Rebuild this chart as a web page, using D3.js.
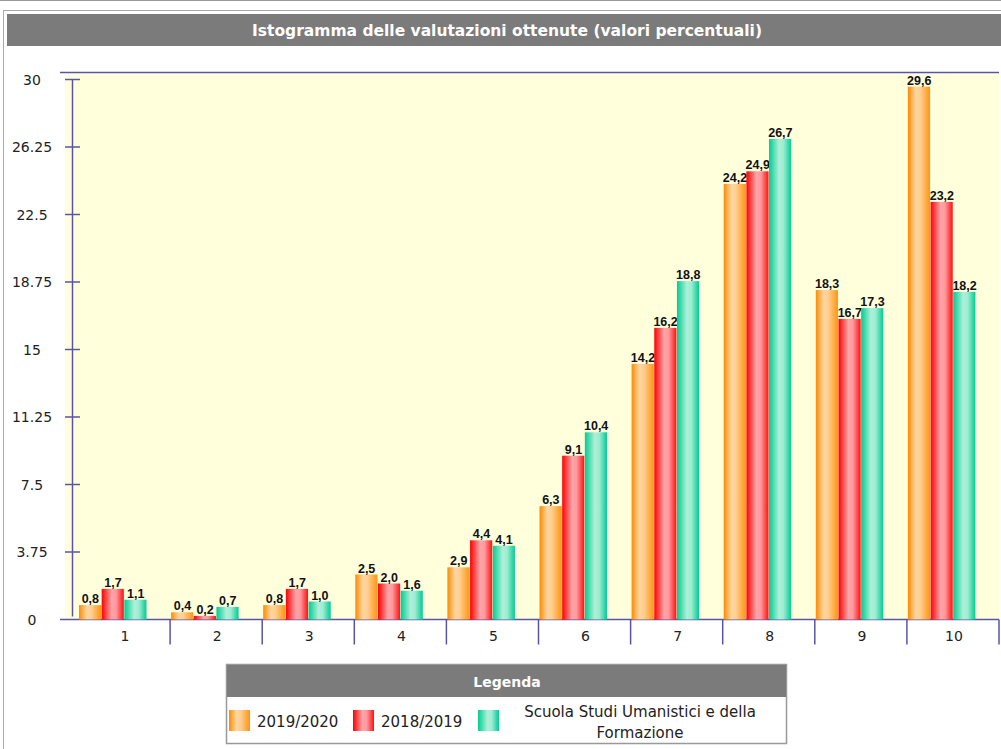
<!DOCTYPE html>
<html>
<head>
<meta charset="utf-8">
<script src="https://cdn.jsdelivr.net/npm/d3@7"></script>
<style>
  body { margin: 0; background: #fff; }
  svg { display: block; font-family: "DejaVu Sans", Verdana, sans-serif; }
</style>
</head>
<body>
<script>
// valutazioni 1..10, percentuali per anno
var categories = ["1", "2", "3", "4", "5", "6", "7", "8", "9", "10"];
var seriesNames = ["2019/2020", "2018/2019", "Scuola Studi Umanistici e della Formazione"];
var values2019 = [0.8, 0.4, 0.8, 2.5, 2.9, 6.3, 14.2, 24.2, 18.3, 29.6];
var values2018 = [1.7, 0.2, 1.7, 2.0, 4.4, 9.1, 16.2, 24.9, 16.7, 23.2];
var valuesScuola = [1.1, 0.7, 1.0, 1.6, 4.1, 10.4, 18.8, 26.7, 17.3, 18.2];
var yTicks = [0, 3.75, 7.5, 11.25, 15, 18.75, 22.5, 26.25, 30];

var W = 1001, H = 749;
var plot = {left: 78, right: 999, top: 79.5, bottom: 619.5};
var axisColor = "#5a54a8";

var svg = d3.select("body").append("svg")
    .attr("width", W).attr("height", H);

// gradienti tipo "cilindro"
var grads = [
  {id: "gOrange", stops: [["0%", "#ff8a00"], ["35%", "#ffd6a0"], ["55%", "#ffcf92"], ["100%", "#ff9410"]]},
  {id: "gRed", stops: [["0%", "#ff0000"], ["45%", "#ffa4a8"], ["65%", "#ff9a9e"], ["100%", "#ff1010"]]},
  {id: "gGreen", stops: [["0%", "#00cc92"], ["45%", "#aef0d8"], ["65%", "#9eecd2"], ["100%", "#00cc92"]]}
];
var defs = svg.append("defs");
grads.forEach(function(g) {
  var lg = defs.append("linearGradient").attr("id", g.id)
      .attr("x1", "0%").attr("x2", "100%").attr("y1", "0%").attr("y2", "0%");
  g.stops.forEach(function(s) {
    lg.append("stop").attr("offset", s[0]).attr("stop-color", s[1]);
  });
});

// cornice esterna
svg.append("line").attr("x1", 0).attr("x2", W).attr("y1", 0.5).attr("y2", 0.5)
    .attr("stroke", "#999");
svg.append("rect").attr("x", 3.5).attr("y", 10.5).attr("width", W + 10).attr("height", H + 10)
    .attr("fill", "none").attr("stroke", "#aaa");

// titolo
svg.append("rect").attr("x", 7).attr("y", 14).attr("width", W - 7).attr("height", 32)
    .attr("fill", "#7b7b7b");
svg.append("text").attr("x", 507).attr("y", 35.5)
    .attr("text-anchor", "middle").attr("fill", "#fff")
    .attr("font-weight", "bold").attr("font-size", "15.5px")
    .text("Istogramma delle valutazioni ottenute (valori percentuali)");

var x = d3.scaleBand().domain(categories).range([plot.left, plot.right]);
var xInner = d3.scaleBand().domain([0, 1, 2]).range([1, 69]);
var y = d3.scaleLinear().domain([0, 30]).range([plot.bottom, plot.top]);

// sfondo area grafico
svg.append("rect").attr("x", 65).attr("y", y(30) - 6)
    .attr("width", plot.right - 65).attr("height", plot.bottom - y(30) + 6)
    .attr("fill", "#ffffdc");
svg.append("line").attr("x1", 60).attr("x2", plot.right)
    .attr("y1", y(30) - 7).attr("y2", y(30) - 7)
    .attr("stroke", axisColor).attr("stroke-width", 1.5);

// asse y
var yAxis = svg.append("g");
yAxis.append("line").attr("x1", 72.5).attr("x2", 72.5)
    .attr("y1", y(30)).attr("y2", y(0) - 3)
    .attr("stroke", axisColor).attr("stroke-width", 1.5);
yAxis.selectAll(".tk").data(yTicks.filter(function(d) { return d > 0; })).enter()
  .append("line").attr("x1", 65).attr("x2", 80)
    .attr("y1", function(d) { return y(d); }).attr("y2", function(d) { return y(d); })
    .attr("stroke", axisColor).attr("stroke-width", 1.5);
yAxis.selectAll("text").data(yTicks).enter().append("text")
    .attr("x", 32).attr("y", function(d) { return y(d) + 5; })
    .attr("text-anchor", "middle").attr("font-size", "14px").attr("fill", "#222")
    .text(function(d) { return d; });

// asse x
svg.append("line").attr("x1", 60).attr("x2", plot.right)
    .attr("y1", y(0)).attr("y2", y(0))
    .attr("stroke", axisColor).attr("stroke-width", 1.5);
svg.selectAll(".sep").data(categories).enter().append("line")
    .attr("x1", function(d) { return x(d) + x.bandwidth(); })
    .attr("x2", function(d) { return x(d) + x.bandwidth(); })
    .attr("y1", y(0)).attr("y2", y(0) + 25)
    .attr("stroke", axisColor).attr("stroke-width", 1.5);
svg.selectAll(".xl").data(categories).enter().append("text")
    .attr("x", function(d) { return x(d) + x.bandwidth() / 2 + 1; })
    .attr("y", y(0) + 21)
    .attr("text-anchor", "middle").attr("font-size", "14px").attr("fill", "#222")
    .text(function(d) { return d; });

// barre
var allSeries = [values2019, values2018, valuesScuola];
var fills = ["url(#gOrange)", "url(#gRed)", "url(#gGreen)"];
var fmt = d3.format(".1f");
allSeries.forEach(function(vals, si) {
  var g = svg.append("g");
  g.selectAll("rect").data(vals).enter().append("rect")
      .attr("x", function(d, i) { return x(categories[i]) + xInner(si); })
      .attr("y", function(d) { return y(d); })
      .attr("width", xInner.bandwidth() - 0.5)
      .attr("height", function(d) { return y(0) - y(d); })
      .attr("fill", fills[si]);
  g.selectAll("text").data(vals).enter().append("text")
      .attr("x", function(d, i) { return x(categories[i]) + xInner(si) + xInner.bandwidth() / 2; })
      .attr("y", function(d) { return y(d) - 2; })
      .attr("text-anchor", "middle")
      .attr("font-family", "'Liberation Sans Narrow', 'Arial Narrow', sans-serif")
      .attr("font-weight", "bold").attr("font-size", "12.5px").attr("fill", "#111")
      .text(function(d) { return fmt(d).replace(".", ","); });
});

// legenda
var lg = svg.append("g");
lg.append("rect").attr("x", 226.5).attr("y", 664.5).attr("width", 560).attr("height", 79)
    .attr("fill", "#fff").attr("stroke", "#999").attr("stroke-width", 1.5);
lg.append("rect").attr("x", 227).attr("y", 665).attr("width", 559).attr("height", 32)
    .attr("fill", "#7b7b7b");
lg.append("text").attr("x", 507).attr("y", 687).attr("text-anchor", "middle")
    .attr("fill", "#fff").attr("font-weight", "bold").attr("font-size", "14px")
    .text("Legenda");
var swatchX = [229, 353, 478];
var labelX = [257, 381, 640];
seriesNames.forEach(function(name, i) {
  lg.append("rect").attr("x", swatchX[i]).attr("y", 710).attr("width", 21).attr("height", 21)
      .attr("fill", fills[i]);
  if (i < 2) {
    lg.append("text").attr("x", labelX[i]).attr("y", 727)
        .attr("font-size", "15px").attr("fill", "#222").text(name);
  } else {
    var t = lg.append("text").attr("text-anchor", "middle")
        .attr("font-size", "15px").attr("fill", "#222");
    t.append("tspan").attr("x", labelX[i]).attr("y", 717).text("Scuola Studi Umanistici e della");
    t.append("tspan").attr("x", labelX[i]).attr("y", 738).text("Formazione");
  }
});
</script>
</body>
</html>
